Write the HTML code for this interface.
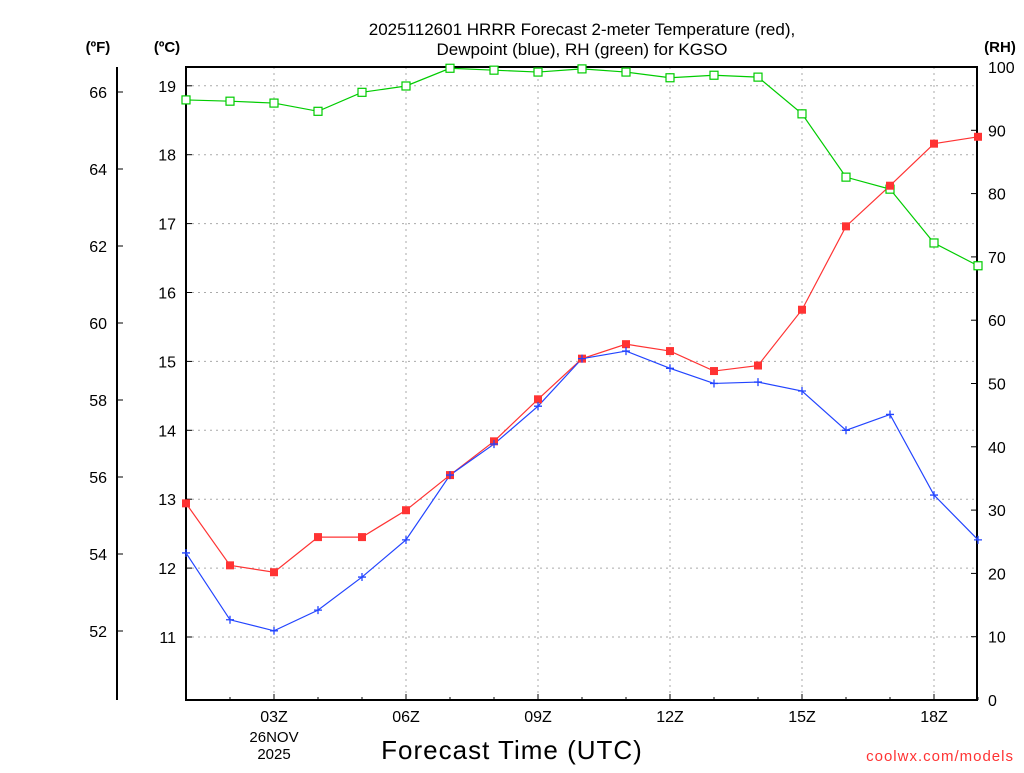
<!DOCTYPE html>
<html><head><meta charset="utf-8"><style>
body{margin:0;background:#fff;width:1024px;height:768px;overflow:hidden}
text{font-family:"Liberation Sans",sans-serif}
</style></head><body>
<svg id="chart" width="1024" height="768" xmlns="http://www.w3.org/2000/svg">
<g id="grid"></g>
<g id="axes"></g>
<g id="series"></g>
<text x="582" y="35" text-anchor="middle" font-size="17">2025112601 HRRR Forecast 2-meter Temperature (red),</text>
<text x="582" y="55" text-anchor="middle" font-size="17">Dewpoint (blue), RH (green) for KGSO</text>
<text x="98" y="52" text-anchor="middle" font-size="15" font-weight="bold">(ºF)</text>
<text x="167" y="52" text-anchor="middle" font-size="15" font-weight="bold">(ºC)</text>
<text x="1000" y="52" text-anchor="middle" font-size="15" font-weight="bold">(RH)</text>
<text x="512" y="759" text-anchor="middle" font-size="26" letter-spacing="1">Forecast Time (UTC)</text>
<text x="274" y="742" text-anchor="middle" font-size="15">26NOV</text>
<text x="274" y="759" text-anchor="middle" font-size="15">2025</text>
<text x="1014" y="761" text-anchor="end" font-size="15" fill="#ff3333" letter-spacing="1">coolwx.com/models</text>
</svg>
<script>
const hours=[1,2,3,4,5,6,7,8,9,10,11,12,13,14,15,16,17,18,19];
const tempC=[12.94,12.04,11.94,12.45,12.45,12.84,13.35,13.84,14.45,15.04,15.25,15.15,14.86,14.94,15.75,16.96,17.55,18.16,18.26];
const dewC=[12.22,11.25,11.09,11.39,11.87,12.41,13.35,13.80,14.35,15.04,15.15,14.90,14.68,14.70,14.57,14.0,14.23,13.06,12.41];
const rh=[94.8,94.6,94.3,93.0,96.0,97.0,99.8,99.5,99.2,99.7,99.2,98.3,98.7,98.4,92.6,82.6,80.7,72.2,68.6];
const cTicks=[11,12,13,14,15,16,17,18,19];
const fTicks=[52,54,56,58,60,62,64,66];
const rhTicks=[0,10,20,30,40,50,60,70,80,90,100];
const xTicks=[3,6,9,12,15,18];
const L=186,R=977,T=67,B=700;
const NS="http://www.w3.org/2000/svg";
const X=h=>L+(h-1)*44;
const YC=c=>637-(c-11)*68.9;
const YF=f=>631-(f-52)*38.5;
const YR=r=>B-(r/100)*(B-T);
function mk(tag,attrs,parent,txt){const e=document.createElementNS(NS,tag);for(const k in attrs)e.setAttribute(k,attrs[k]);if(txt!==undefined)e.textContent=txt;parent.appendChild(e);return e;}
const grid=document.getElementById('grid'),axes=document.getElementById('axes'),ser=document.getElementById('series');
cTicks.forEach(c=>{
 const l=mk('line',{x1:L,x2:R,y1:YC(c),y2:YC(c),stroke:'#aaa','stroke-dasharray':'2,4'},grid);
 
 
 const t=mk('text',{x:176,y:YC(c)+6,'text-anchor':'end','font-size':16},axes,c);
 
 
 mk('line',{x1:L,x2:L+6,y1:YC(c),y2:YC(c),stroke:'#000'},axes);
});
xTicks.forEach(h=>{
 const l=mk('line',{x1:X(h),x2:X(h),y1:T,y2:B,stroke:'#aaa','stroke-dasharray':'2,4'},grid);
 
 
 mk('line',{x1:X(h),x2:X(h),y1:B,y2:B-6,stroke:'#000'},axes);
 const t=mk('text',{x:X(h),y:722,'text-anchor':'middle','font-size':16},axes,String(h).padStart(2,'0')+'Z');
 
 
});
hours.forEach(h=>mk('line',{x1:X(h),x2:X(h),y1:B,y2:B-3,stroke:'#000'},axes));
fTicks.forEach(f=>{
 mk('line',{x1:117,x2:123,y1:YF(f),y2:YF(f),stroke:'#000'},axes);
 const t=mk('text',{x:107,y:YF(f)+6,'text-anchor':'end','font-size':16},axes,f);
 
 
});
rhTicks.forEach(r=>{
 mk('line',{x1:R,x2:R-6,y1:YR(r),y2:YR(r),stroke:'#000'},axes);
 const t=mk('text',{x:988,y:YR(r)+6,'font-size':16},axes,r);
 
 
});
mk('rect',{x:L,y:T,width:R-L,height:B-T,fill:'none',stroke:'#000','stroke-width':2},axes);
mk('line',{x1:117,x2:117,y1:T,y2:B,stroke:'#000','stroke-width':2},axes);
function line(vals,yf,color,name){
 const p=mk('polyline',{points:vals.map((v,i)=>X(hours[i])+','+yf(v)).join(' '),fill:'none',stroke:color,'stroke-width':1.2},ser);
 
 
}
line(rh,YR,'#00cc00','rh');line(tempC,YC,'#ff3333','temperature');line(dewC,YC,'#2244ff','dewpoint');
rh.forEach((v,i)=>{const m=mk('rect',{x:X(hours[i])-4,y:YR(v)-4,width:8,height:8,fill:'#fff',stroke:'#00cc00','stroke-width':1.2},ser);
 
 });
tempC.forEach((v,i)=>{const m=mk('rect',{x:X(hours[i])-4,y:YC(v)-4,width:8,height:8,fill:'#ff3333'},ser);
 
 });
dewC.forEach((v,i)=>{const x=X(hours[i]),y=YC(v);const m=mk('path',{d:`M${x-4},${y}H${x+4}M${x},${y-4}V${y+4}`,stroke:'#2244ff','stroke-width':1.3},ser);
 
 });
</script>
</body></html>
